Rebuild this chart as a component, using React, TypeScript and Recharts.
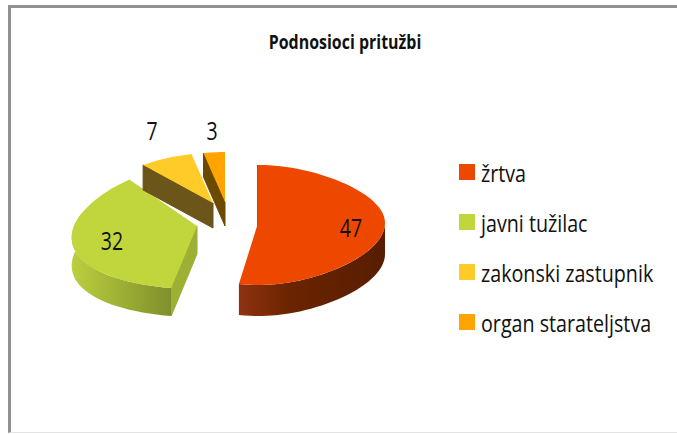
import React from 'react';
import { PieChart, Pie, Legend } from 'recharts';

const categories = ['žrtva', 'javni tužilac', 'zakonski zastupnik', 'organ starateljstva'];
const values = [47, 32, 7, 3];
const colors = ['#EE4700', '#C1D63C', '#FFCB29', '#FFA400'];

const FONT = '"Open Sans", sans-serif';
const SQUEEZE = 0.78;
const LEGEND_SQUEEZE = 0.82;
const TITLE_SQUEEZE = 0.84;

// exploded slice geometry, the angles still come from the Pie itself
const explode = [
  { x: 258, y: 223, rx: 127, ry: 58, ryFront: 62, depth: 31, k: 0.15, wall: '#5c1e00', rim: 'redRim', labelX: 351, labelY: 228 },
  { x: 197, y: 226, rx: 123, ry: 61, ryFront: 63, depth: 28, k: 0.2, wall: '#9db034', rim: 'greenRim', labelX: 112, labelY: 241 },
  { x: 213, y: 203, rx: 127, ry: 50, ryFront: 50, depth: 25, k: 0.2, wall: '#6b5518', rim: '', labelX: 152, labelY: 131 },
  { x: 225, y: 202, rx: 127, ry: 50, ryFront: 50, depth: 24, k: 0.2, wall: '#6b4a00', rim: '', labelX: 212, labelY: 131 },
];

const tableData = categories.map((name, i) => ({ name, value: values[i], fill: colors[i] }));

const project = (g: (typeof explode)[number], theta: number) => {
  const r = (theta * Math.PI) / 180;
  const c = Math.cos(r);
  // red narrows at both ends, the others only get wider towards the viewer
  const factor = g.rim === 'redRim' ? 1 - g.k * c * c : 1 - g.k * c;
  const px = g.x + g.rx * Math.sin(r) * factor;
  const py = g.y - (c > 0 ? g.ry : g.ryFront) * c;
  return [px, py];
};

const arc = (g: (typeof explode)[number], from: number, to: number) => {
  const pts: number[][] = [];
  const steps = Math.max(2, Math.ceil((to - from) / 3));
  for (let i = 0; i <= steps; i++) pts.push(project(g, from + ((to - from) * i) / steps));
  return pts;
};

const toPath = (pts: number[][]) =>
  pts.map((p, i) => `${i === 0 ? 'M' : 'L'}${p[0].toFixed(1)},${p[1].toFixed(1)}`).join(' ') + ' Z';

const Slice3D = (props: any) => {
  const i = categories.indexOf(props.name);
  const g = explode[i];
  // Pie angles run counter-clockwise from 3 o'clock
  const from = 90 - props.startAngle;
  const to = 90 - props.endAngle;
  const start = project(g, from);
  const cutWall = [
    [g.x, g.y],
    start,
    [start[0], start[1] + g.depth],
    [g.x, g.y + g.depth],
  ];
  // rim runs a bit past 270 because the skewed ellipse peaks there
  const rimFrom = Math.max(from, 90);
  const rimTo = Math.min(to, 282);
  let rim: number[][] = [];
  if (g.rim && rimTo > rimFrom) {
    const top = arc(g, rimFrom, rimTo);
    rim = [...top, ...top.slice().reverse().map((p) => [p[0], p[1] + g.depth])];
  }
  return (
    <g>
      <path d={toPath(cutWall)} fill={g.wall} stroke={g.wall} strokeWidth={1} />
      {rim.length > 0 && <path d={toPath(rim)} fill={`url(#${g.rim})`} />}
      <path d={toPath([[g.x, g.y], ...arc(g, from, to)])} fill={props.fill} />
    </g>
  );
};

const sliceLabel = (props: any) => {
  const g = explode[categories.indexOf(props.name)];
  return (
    <text
      transform={`translate(${g.labelX} ${g.labelY}) scale(${SQUEEZE} 1)`}
      textAnchor="middle"
      dominantBaseline="central"
      fontFamily={FONT}
      fontSize={25}
      fill="#111"
    >
      {props.value}
    </text>
  );
};

const legendContent = (props: any) => (
  <div style={{ fontFamily: FONT }}>
    {props.payload.map((entry: any) => (
      <div key={entry.value} style={{ display: 'flex', alignItems: 'center', height: 50 }}>
        <span style={{ width: 16, height: 16, background: entry.color, marginRight: 6, flex: 'none' }} />
        <span
          style={{
            fontSize: 24,
            color: '#111',
            whiteSpace: 'nowrap',
            transform: `scaleX(${LEGEND_SQUEEZE})`,
            transformOrigin: 'left center',
          }}
        >
          {entry.value}
        </span>
      </div>
    ))}
  </div>
);

export default function App() {
  return (
    <div style={{ position: 'absolute', left: 0, top: 0, width: 677, height: 434, overflow: 'hidden', background: '#fff' }}>
      <div
        style={{
          position: 'absolute',
          left: 8,
          top: 5,
          width: 680,
          height: 424,
          borderLeft: '3px solid #909090',
          borderTop: '3px solid #909090',
          borderBottom: '1px solid #e4e4e4',
        }}
      />
      <div style={{ position: 'absolute', left: 0, top: 0 }}>
        <PieChart width={677} height={434} margin={{ top: 0, right: 0, bottom: 0, left: 0 }}>
          <defs>
            <linearGradient id="redRim" x1="0" y1="0" x2="1" y2="0">
              <stop offset="0" stopColor="#8f3210" />
              <stop offset="0.35" stopColor="#6b2400" />
              <stop offset="1" stopColor="#571d00" />
            </linearGradient>
            <linearGradient id="greenRim" x1="0" y1="0" x2="1" y2="0">
              <stop offset="0" stopColor="#bccf3e" />
              <stop offset="1" stopColor="#7f8f2c" />
            </linearGradient>
          </defs>
          <text
            transform={`translate(345 41) scale(${TITLE_SQUEEZE} 1)`}
            textAnchor="middle"
            dominantBaseline="central"
            fontFamily={FONT}
            fontSize={19}
            fontWeight={700}
            fill="#111"
          >
            Podnosioci pritužbi
          </text>
          <Pie
            data={tableData}
            dataKey="value"
            nameKey="name"
            cx={258}
            cy={223}
            outerRadius={127}
            startAngle={90}
            endAngle={-270}
            stroke="none"
            shape={Slice3D}
            label={sliceLabel}
            labelLine={false}
            isAnimationActive={false}
          />
          <Legend
            layout="vertical"
            content={legendContent}
            itemSorter={null}
            wrapperStyle={{ position: 'absolute', left: 459, top: 147, width: 218 }}
          />
        </PieChart>
      </div>
    </div>
  );
}
